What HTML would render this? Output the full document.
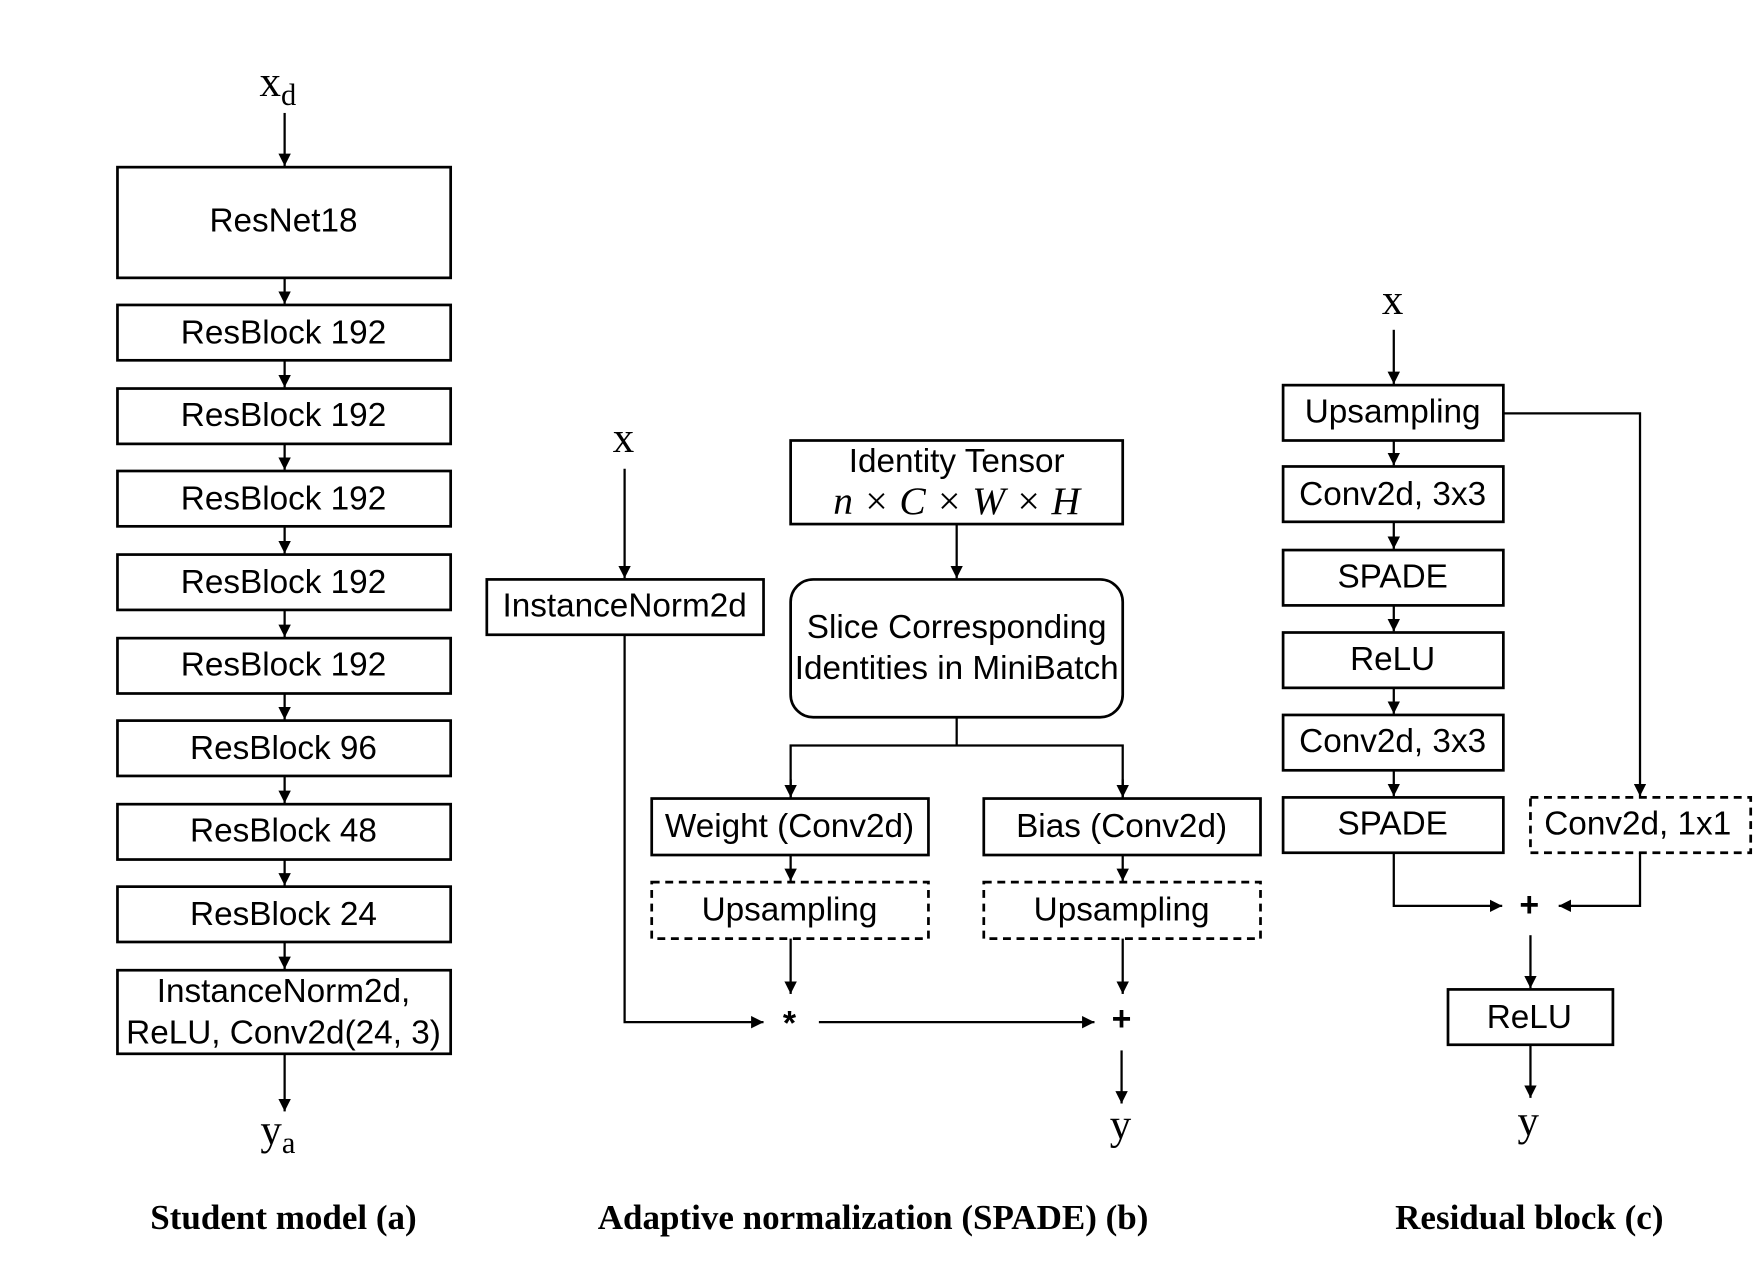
<!DOCTYPE html>
<html><head><meta charset="utf-8"><style>
html,body{margin:0;padding:0;background:#fff;}
svg{display:block;}
.l{font-family:"Liberation Sans",sans-serif;font-size:29.5px;text-anchor:middle;fill:#000;}
.m{font-family:"Liberation Serif",serif;font-size:38px;text-anchor:middle;fill:#000;}
.mi{font-family:"Liberation Serif",serif;font-style:italic;font-size:35px;text-anchor:middle;fill:#000;}
.t{font-family:"Liberation Serif",serif;font-weight:bold;font-size:31px;text-anchor:middle;fill:#000;}
.p{font-family:"Liberation Sans",sans-serif;font-size:30px;font-weight:bold;text-anchor:middle;fill:#000;}
rect{fill:#fff;stroke:#000;stroke-width:2.4;}
.d{stroke-dasharray:7,5;}
line,polyline{stroke:#000;stroke-width:2;fill:none;}
</style></head><body>
<svg width="1762" height="1278" viewBox="0 0 1560 1131.5" preserveAspectRatio="none">
<defs><marker id="a" viewBox="0 0 10 10" refX="10" refY="5" markerWidth="11" markerHeight="11" markerUnits="userSpaceOnUse" orient="auto"><path d="M0,0 L10,5 L0,10 z" fill="#000"/></marker></defs>

<text class="m" x="246" y="85">x<tspan font-size="27" dy="8">d</tspan></text>
<line x1="252" y1="100" x2="252" y2="147" marker-end="url(#a)"/>
<rect x="104" y="148" width="295" height="98"/><text class="l" x="251" y="205">ResNet18</text>
<rect x="104" y="270" width="295" height="49"/><text class="l" x="251" y="304">ResBlock 192</text>
<rect x="104" y="344" width="295" height="49"/><text class="l" x="251" y="377">ResBlock 192</text>
<rect x="104" y="417" width="295" height="49"/><text class="l" x="251" y="451">ResBlock 192</text>
<rect x="104" y="491" width="295" height="49"/><text class="l" x="251" y="525">ResBlock 192</text>
<rect x="104" y="565" width="295" height="49"/><text class="l" x="251" y="598">ResBlock 192</text>
<rect x="104" y="638" width="295" height="49"/><text class="l" x="251" y="672">ResBlock 96</text>
<rect x="104" y="712" width="295" height="49"/><text class="l" x="251" y="745">ResBlock 48</text>
<rect x="104" y="785" width="295" height="49"/><text class="l" x="251" y="819">ResBlock 24</text>
<rect x="104" y="859" width="295" height="74"/><text class="l" x="251" y="887">InstanceNorm2d,</text><text class="l" x="251" y="924">ReLU, Conv2d(24, 3)</text>
<line x1="252" y1="246" x2="252" y2="269" marker-end="url(#a)"/>
<line x1="252" y1="319" x2="252" y2="343" marker-end="url(#a)"/>
<line x1="252" y1="393" x2="252" y2="416" marker-end="url(#a)"/>
<line x1="252" y1="466" x2="252" y2="490" marker-end="url(#a)"/>
<line x1="252" y1="540" x2="252" y2="564" marker-end="url(#a)"/>
<line x1="252" y1="614" x2="252" y2="637" marker-end="url(#a)"/>
<line x1="252" y1="687" x2="252" y2="711" marker-end="url(#a)"/>
<line x1="252" y1="761" x2="252" y2="784" marker-end="url(#a)"/>
<line x1="252" y1="834" x2="252" y2="858" marker-end="url(#a)"/>
<line x1="252" y1="933" x2="252" y2="984" marker-end="url(#a)"/>
<text class="m" x="246" y="1013">y<tspan font-size="27" dy="8">a</tspan></text>
<text class="t" x="251" y="1088">Student model (a)</text>

<text class="m" x="552" y="400">x</text>
<line x1="553" y1="415" x2="553" y2="512" marker-end="url(#a)"/>
<rect x="431" y="513" width="245" height="49"/><text class="l" x="553" y="546">InstanceNorm2d</text>
<polyline points="553,562 553,905 676,905" marker-end="url(#a)"/>
<text class="p" x="699" y="916">*</text>
<line x1="725" y1="905" x2="969" y2="905" marker-end="url(#a)"/>
<text class="p" x="993" y="912">+</text>
<line x1="993" y1="930" x2="993" y2="977" marker-end="url(#a)"/>
<text class="m" x="992" y="1008">y</text>

<rect x="700" y="390" width="294" height="74"/><text class="l" x="847" y="418">Identity Tensor</text>
<text class="mi" x="847" y="455">n × C × W × H</text>
<line x1="847" y1="464" x2="847" y2="512" marker-end="url(#a)"/>
<rect x="700" y="513" width="294" height="122" rx="20"/>
<text class="l" x="847" y="565">Slice Corresponding</text><text class="l" x="847" y="601">Identities in MiniBatch</text>
<line x1="847" y1="635" x2="847" y2="660"/>
<polyline points="700,706 700,660 994,660 994,706"/>
<line x1="700" y1="690" x2="700" y2="706" marker-end="url(#a)"/>
<line x1="994" y1="690" x2="994" y2="706" marker-end="url(#a)"/>
<rect x="577" y="707" width="245" height="50"/><text class="l" x="699" y="741">Weight (Conv2d)</text>
<rect x="871" y="707" width="245" height="50"/><text class="l" x="993" y="741">Bias (Conv2d)</text>
<line x1="700" y1="757" x2="700" y2="780" marker-end="url(#a)"/>
<line x1="994" y1="757" x2="994" y2="780" marker-end="url(#a)"/>
<rect class="d" x="577" y="781" width="245" height="50"/><text class="l" x="699" y="815">Upsampling</text>
<rect class="d" x="871" y="781" width="245" height="50"/><text class="l" x="993" y="815">Upsampling</text>
<line x1="700" y1="831" x2="700" y2="880" marker-end="url(#a)"/>
<line x1="994" y1="831" x2="994" y2="880" marker-end="url(#a)"/>
<text class="t" x="773" y="1088">Adaptive normalization (SPADE) (b)</text>

<text class="m" x="1233" y="278">x</text>
<line x1="1234" y1="292" x2="1234" y2="340" marker-end="url(#a)"/>
<rect x="1136" y="341" width="195" height="49"/><text class="l" x="1233" y="374">Upsampling</text>
<rect x="1136" y="413" width="195" height="49"/><text class="l" x="1233" y="447">Conv2d, 3x3</text>
<rect x="1136" y="487" width="195" height="49"/><text class="l" x="1233" y="520">SPADE</text>
<rect x="1136" y="560" width="195" height="49"/><text class="l" x="1233" y="593">ReLU</text>
<rect x="1136" y="633" width="195" height="49"/><text class="l" x="1233" y="666">Conv2d, 3x3</text>
<rect x="1136" y="706" width="195" height="49"/><text class="l" x="1233" y="739">SPADE</text>
<line x1="1234" y1="390" x2="1234" y2="412" marker-end="url(#a)"/>
<line x1="1234" y1="462" x2="1234" y2="486" marker-end="url(#a)"/>
<line x1="1234" y1="536" x2="1234" y2="559" marker-end="url(#a)"/>
<line x1="1234" y1="609" x2="1234" y2="632" marker-end="url(#a)"/>
<line x1="1234" y1="682" x2="1234" y2="705" marker-end="url(#a)"/>
<polyline points="1331,366 1452,366 1452,705" marker-end="url(#a)"/>
<rect class="d" x="1355" y="706" width="195" height="49"/><text class="l" x="1450" y="739">Conv2d, 1x1</text>
<polyline points="1234,755 1234,802 1330,802" marker-end="url(#a)"/>
<polyline points="1452,755 1452,802 1380,802" marker-end="url(#a)"/>
<text class="p" x="1354" y="811">+</text>
<line x1="1355" y1="828" x2="1355" y2="875" marker-end="url(#a)"/>
<rect x="1282" y="876" width="146" height="49"/><text class="l" x="1354" y="910">ReLU</text>
<line x1="1355" y1="925" x2="1355" y2="972" marker-end="url(#a)"/>
<text class="m" x="1353" y="1005">y</text>
<text class="t" x="1354" y="1088">Residual block (c)</text>
</svg>
</body></html>
